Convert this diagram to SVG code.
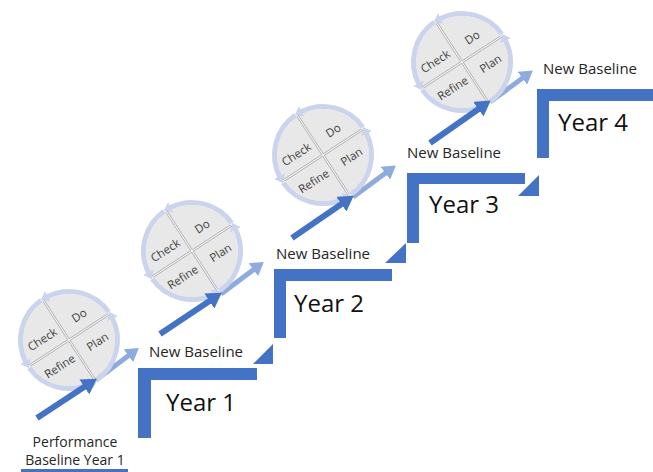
<svg xmlns="http://www.w3.org/2000/svg" width="653" height="472" viewBox="0 0 653 472">
<defs>
<style>
.step{fill:#4472C4}
.lbl{font-family:"Open Sans","Liberation Sans",sans-serif;font-size:15px;fill:#262626}
.lbs{font-family:"Open Sans","Liberation Sans",sans-serif;font-size:14px;fill:#262626;text-anchor:middle}
.yr{font-family:"Open Sans","Liberation Sans",sans-serif;font-size:24px;fill:#111}
.ct{font-family:"Open Sans","Liberation Sans",sans-serif;font-size:11.5px;fill:#404040;text-anchor:middle}
.disk{fill:#e8e8e8}
.ring{fill:none;stroke:#cbd4ec;stroke-width:5}
.div1{stroke:#b4b4b4;stroke-width:2.6;fill:none}
.div2{stroke:#ffffff;stroke-width:1;fill:none}
.dark{stroke:#4472C4;stroke-width:6;fill:none}
.light{stroke:#8FAADC;stroke-width:5;fill:none}
</style>
<marker id="hd" markerUnits="userSpaceOnUse" markerWidth="16" markerHeight="18" refX="2" refY="9" orient="auto"><path d="M0,0 L15,9 L0,18 z" fill="#4472C4"/></marker>
<marker id="hl" markerUnits="userSpaceOnUse" markerWidth="14" markerHeight="16" refX="2" refY="8" orient="auto"><path d="M0,0 L13,8 L0,16 z" fill="#8FAADC"/></marker>
<marker id="hr" markerUnits="userSpaceOnUse" markerWidth="10" markerHeight="12" refX="1" refY="6" orient="auto"><path d="M0,0 L8,6 L0,12 z" fill="#cbd4ec"/></marker>
<path id="pDo" d="M-21.09,0.57 L46.01,-42.99"/>
<path id="pCheck" d="M-57.99,24.53 L9.11,-19.03"/>
<path id="pPlan" d="M-2.82,26.86 L64.28,-16.70"/>
<path id="pRefine" d="M-40.56,51.37 L26.54,7.81"/>
</defs>

<g id="step1">
<path class="step" d="M138,368 H257 V380 H151 V438 H138 Z"/>
<path class="step" d="M253,364 H273 V344 Z"/>
<text class="lbl" x="149" y="356.5">New Baseline</text>
<text class="yr" x="166" y="411">Year 1</text>
</g>
<g id="step2">
<path class="step" d="M274,269 H392 V281 H286 V338 H274 Z"/>
<path class="step" d="M385,263 H406 V243 Z"/>
<text class="lbl" x="276" y="259">New Baseline</text>
<text class="yr" x="294" y="312">Year 2</text>
</g>
<g id="step3">
<path class="step" d="M407,173 H525 V184 H419 V243 H407 Z"/>
<path class="step" d="M518,196 H539 V175 Z"/>
<text class="lbl" x="407" y="158">New Baseline</text>
<text class="yr" x="429" y="213">Year 3</text>
</g>
<g id="step4">
<path class="step" d="M537,89 H653 V101 H549 V158 H537 Z"/>
<text class="lbl" x="543" y="74">New Baseline</text>
<text class="yr" x="558" y="131">Year 4</text>
</g>
<g id="start">
<text class="lbs" x="75" y="447">Performance</text>
<text class="lbs" x="75" y="465">Baseline Year 1</text>
<rect class="step" x="21" y="469" width="107" height="3"/>
</g>

<g id="connectors-light">
<line class="light" marker-end="url(#hl)" x1="96" y1="380" x2="130" y2="354.5"/>
<line class="light" marker-end="url(#hl)" x1="221" y1="294" x2="255" y2="268.5"/>
<line class="light" marker-end="url(#hl)" x1="353" y1="197" x2="387" y2="172"/>
<line class="light" marker-end="url(#hl)" x1="490" y1="102" x2="524" y2="77"/>
</g>

<g id="cycle1" transform="translate(69,340)">
<circle class="disk" r="46"/>
<path class="ring" marker-end="url(#hr)" d="M27.81,39.73 A48.5,48.5 0 0 0 43.21,-22.02"/>
<path class="ring" marker-end="url(#hr)" d="M39.73,-27.81 A48.5,48.5 0 0 0 -22.02,-43.21"/>
<path class="ring" marker-end="url(#hr)" d="M-27.81,-39.73 A48.5,48.5 0 0 0 -43.21,22.02"/>
<path class="ring" marker-end="url(#hr)" d="M-39.73,27.81 A48.5,48.5 0 0 0 22.02,43.21"/>
<path class="div1" d="M-39.42,25.6 L39.42,-25.6 M-25.6,-39.42 L25.6,39.42"/>
<path class="div2" d="M-39.42,25.6 L39.42,-25.6 M-25.6,-39.42 L25.6,39.42"/>
<text class="ct"><textPath href="#pDo" startOffset="50%">Do</textPath></text>
<text class="ct"><textPath href="#pCheck" startOffset="50%">Check</textPath></text>
<text class="ct"><textPath href="#pPlan" startOffset="50%">Plan</textPath></text>
<text class="ct"><textPath href="#pRefine" startOffset="50%">Refine</textPath></text>
</g>
<g id="cycle2" transform="translate(192,251)">
<circle class="disk" r="46"/>
<path class="ring" marker-end="url(#hr)" d="M27.81,39.73 A48.5,48.5 0 0 0 43.21,-22.02"/>
<path class="ring" marker-end="url(#hr)" d="M39.73,-27.81 A48.5,48.5 0 0 0 -22.02,-43.21"/>
<path class="ring" marker-end="url(#hr)" d="M-27.81,-39.73 A48.5,48.5 0 0 0 -43.21,22.02"/>
<path class="ring" marker-end="url(#hr)" d="M-39.73,27.81 A48.5,48.5 0 0 0 22.02,43.21"/>
<path class="div1" d="M-39.42,25.6 L39.42,-25.6 M-25.6,-39.42 L25.6,39.42"/>
<path class="div2" d="M-39.42,25.6 L39.42,-25.6 M-25.6,-39.42 L25.6,39.42"/>
<text class="ct"><textPath href="#pDo" startOffset="50%">Do</textPath></text>
<text class="ct"><textPath href="#pCheck" startOffset="50%">Check</textPath></text>
<text class="ct"><textPath href="#pPlan" startOffset="50%">Plan</textPath></text>
<text class="ct"><textPath href="#pRefine" startOffset="50%">Refine</textPath></text>
</g>
<g id="cycle3" transform="translate(323,155)">
<circle class="disk" r="46"/>
<path class="ring" marker-end="url(#hr)" d="M27.81,39.73 A48.5,48.5 0 0 0 43.21,-22.02"/>
<path class="ring" marker-end="url(#hr)" d="M39.73,-27.81 A48.5,48.5 0 0 0 -22.02,-43.21"/>
<path class="ring" marker-end="url(#hr)" d="M-27.81,-39.73 A48.5,48.5 0 0 0 -43.21,22.02"/>
<path class="ring" marker-end="url(#hr)" d="M-39.73,27.81 A48.5,48.5 0 0 0 22.02,43.21"/>
<path class="div1" d="M-39.42,25.6 L39.42,-25.6 M-25.6,-39.42 L25.6,39.42"/>
<path class="div2" d="M-39.42,25.6 L39.42,-25.6 M-25.6,-39.42 L25.6,39.42"/>
<text class="ct"><textPath href="#pDo" startOffset="50%">Do</textPath></text>
<text class="ct"><textPath href="#pCheck" startOffset="50%">Check</textPath></text>
<text class="ct"><textPath href="#pPlan" startOffset="50%">Plan</textPath></text>
<text class="ct"><textPath href="#pRefine" startOffset="50%">Refine</textPath></text>
</g>
<g id="cycle4" transform="translate(462,62)">
<circle class="disk" r="46"/>
<path class="ring" marker-end="url(#hr)" d="M27.81,39.73 A48.5,48.5 0 0 0 43.21,-22.02"/>
<path class="ring" marker-end="url(#hr)" d="M39.73,-27.81 A48.5,48.5 0 0 0 -22.02,-43.21"/>
<path class="ring" marker-end="url(#hr)" d="M-27.81,-39.73 A48.5,48.5 0 0 0 -43.21,22.02"/>
<path class="ring" marker-end="url(#hr)" d="M-39.73,27.81 A48.5,48.5 0 0 0 22.02,43.21"/>
<path class="div1" d="M-39.42,25.6 L39.42,-25.6 M-25.6,-39.42 L25.6,39.42"/>
<path class="div2" d="M-39.42,25.6 L39.42,-25.6 M-25.6,-39.42 L25.6,39.42"/>
<text class="ct"><textPath href="#pDo" startOffset="50%">Do</textPath></text>
<text class="ct"><textPath href="#pCheck" startOffset="50%">Check</textPath></text>
<text class="ct"><textPath href="#pPlan" startOffset="50%">Plan</textPath></text>
<text class="ct"><textPath href="#pRefine" startOffset="50%">Refine</textPath></text>
</g>

<g id="connectors">
<line class="dark" marker-end="url(#hd)" x1="37" y1="418" x2="86" y2="385.8"/>
<line class="dark" marker-end="url(#hd)" x1="160" y1="334" x2="211" y2="300"/>
<line class="dark" marker-end="url(#hd)" x1="292" y1="238" x2="343" y2="203"/>
<line class="dark" marker-end="url(#hd)" x1="430" y1="143" x2="480" y2="108"/>
</g>
</svg>
